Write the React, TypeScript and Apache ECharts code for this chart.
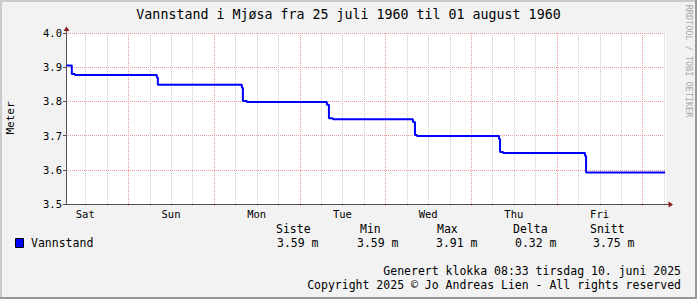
import React, { useEffect, useRef } from 'react';
import * as echarts from 'echarts';

// ---- data ----
const chartTitle = 'Vannstand i Mjøsa fra 25 juli 1960 til 01 august 1960';
const seriesName = 'Vannstand';
const yAxisName = 'Meter';
const dayLabels = ['Sat', 'Sun', 'Mon', 'Tue', 'Wed', 'Thu', 'Fri'];
const dayLabelHours = [-12, 12, 36, 60, 84, 108, 132];
const gridHours = [-12, -6, 0, 6, 12, 18, 24, 30, 36, 42, 48, 54, 60, 66, 72, 78, 84, 90, 96, 102, 108, 114, 120, 126, 132, 138, 144, 150];
// hours relative to a midnight; each level holds until the next time (step)
const hours = [-17.3, -15.77, -14.93, 8.04, 8.32, 31.85, 32.13, 33.25, 55.66, 56.22, 57.34, 79.75, 80.31, 80.87, 103.85, 104.13, 104.97, 127.94, 128.22, 150.36];
const levels = [3.905, 3.88, 3.877, 3.87, 3.849, 3.84, 3.801, 3.798, 3.79, 3.751, 3.748, 3.74, 3.702, 3.699, 3.69, 3.652, 3.649, 3.64, 3.592, 3.592];
const yMin = 3.5;
const yMax = 4.0;
const yStep = 0.1;
const statHeaders = ['Siste', 'Min', 'Max', 'Delta', 'Snitt'];
const statValues = ['3.59 m', '3.59 m', '3.91 m', '0.32 m', '3.75 m'];
const footerLines = [
  'Generert klokka 08:33 tirsdag 10. juni 2025',
  'Copyright 2025 © Jo Andreas Lien - All rights reserved',
];
const watermark = 'RRDTOOL / TOBI OETIKER';

// ---- layout / style ----
const MONO = '"DejaVu Sans Mono", "Liberation Mono", monospace';
const AXIS = '#505050';
const ARROW = '#8b1a1a';
const GRID = '#c8c8c8';
const MGRID = '#e99a9a';
const headerX = [276, 360, 437, 513, 590];
const valueX = [277, 357, 436, 515, 593];

function txt(text: string, x: number, y: number, size: number, align = 'left', fill = '#000', rotation = 0) {
  return {
    type: 'text',
    x,
    y,
    rotation,
    silent: true,
    style: {
      text,
      x: 0,
      y: 0,
      fill,
      font: `${size}px ${MONO}`,
      align,
      textAlign: align,
      verticalAlign: 'middle',
      textVerticalAlign: 'middle',
    },
  };
}

export default function App() {
  const ref = useRef<HTMLDivElement>(null);
  useEffect(() => {
    if (!ref.current) return;
    const chart = echarts.init(ref.current, undefined, { renderer: 'svg' });
    const graphic: any[] = [
      // frame
      { type: 'rect', shape: { x: 0, y: 0, width: 697, height: 2 }, style: { fill: '#CBCBCB' }, silent: true },
      { type: 'rect', shape: { x: 0, y: 0, width: 2, height: 299 }, style: { fill: '#CBCBCB' }, silent: true },
      { type: 'rect', shape: { x: 695, y: 0, width: 2, height: 299 }, style: { fill: '#999999' }, silent: true },
      { type: 'rect', shape: { x: 0, y: 297, width: 697, height: 2 }, style: { fill: '#999999' }, silent: true },
      txt(chartTitle, 348.5, 14, 13.3, 'center'),
      txt(watermark, 689, 61, 8.5, 'center', '#a8a8a8', -Math.PI / 2),
      txt(yAxisName, 10, 118, 11, 'center', '#000', Math.PI / 2),
      // axis extensions + arrows
      { type: 'line', shape: { x1: 66.5, y1: 33, x2: 66.5, y2: 30 }, style: { stroke: AXIS, lineWidth: 1 }, silent: true, z: 10 },
      { type: 'polygon', shape: { points: [[66.5, 26.5], [63.5, 31], [69.5, 31]] }, style: { fill: ARROW }, silent: true, z: 10 },
      { type: 'line', shape: { x1: 666, y1: 204.5, x2: 669, y2: 204.5 }, style: { stroke: AXIS, lineWidth: 1 }, silent: true, z: 10 },
      { type: 'polygon', shape: { points: [[673, 204.5], [668.5, 201.5], [668.5, 207.5]] }, style: { fill: ARROW }, silent: true, z: 10 },
      // legend
      { type: 'rect', shape: { x: 15.5, y: 238.5, width: 8, height: 9 }, style: { fill: '#0000FF', stroke: '#000', lineWidth: 1 }, silent: true },
      txt(seriesName, 31, 243, 11.5),
      ...statHeaders.map((h, i) => txt(h, headerX[i], 229, 11.5)),
      ...statValues.map((v, i) => txt(v, valueX[i], 243, 11.5)),
      txt(footerLines[0], 681, 271, 11.5, 'right'),
      txt(footerLines[1], 681, 285, 11.5, 'right'),
    ];
    chart.setOption({
      animation: false,
      backgroundColor: '#F2F2F2',
      textStyle: { fontFamily: MONO },
      grid: { left: 66, top: 33, width: 600, height: 171, show: true, backgroundColor: '#FFFFFF', borderWidth: 0 },
      xAxis: {
        type: 'value',
        min: -17.4,
        max: 150.6,
        axisLine: { show: true, onZero: false, lineStyle: { color: AXIS, width: 1 } },
        axisTick: { show: false },
        axisLabel: {
          customValues: dayLabelHours,
          formatter: (v: number) => {
            const i = dayLabelHours.indexOf(Math.round(v));
            return i >= 0 ? dayLabels[i] : '';
          },
          fontFamily: MONO,
          fontSize: 10.5,
          color: '#000',
          margin: 4,
        },
        splitLine: { show: false },
      },
      yAxis: {
        type: 'value',
        min: yMin,
        max: yMax,
        interval: yStep,
        axisLine: { show: true, onZero: false, lineStyle: { color: AXIS, width: 1 } },
        axisTick: { show: true, length: 3, lineStyle: { color: AXIS } },
        axisLabel: {
          formatter: (v: number) => v.toFixed(1),
          fontFamily: MONO,
          fontSize: 10.5,
          color: '#000',
          margin: 4,
        },
        splitLine: { show: true, lineStyle: { color: MGRID, type: [1, 1], width: 1 } },
      },
      series: [
        {
          type: 'custom',
          name: 'grid',
          z: 1,
          silent: true,
          clip: false,
          data: gridHours.map((h) => [h, yMin]),
          encode: { x: 0, y: 1 },
          renderItem: (params: any, api: any) => {
            const h = api.value(0);
            const top = api.coord([h, yMax]);
            const bot = api.coord([h, yMin]);
            const x = Math.round(top[0]) + 0.5;
            return {
              type: 'line',
              shape: { x1: x, y1: top[1], x2: x, y2: bot[1] + 2 },
              style: { stroke: h % 24 === 0 ? MGRID : GRID, lineDash: [1, 1], lineWidth: 1 },
            };
          },
        },
        {
          type: 'line',
          name: seriesName,
          z: 3,
          data: hours.map((h, i) => [h, levels[i]]),
          step: 'end',
          symbol: 'none',
          showSymbol: false,
          lineStyle: { color: '#0000FF', width: 2 },
          clip: true,
        },
      ],
      graphic,
    });
    return () => chart.dispose();
  }, []);
  return <div ref={ref} style={{ position: 'fixed', left: 0, top: 0, width: 697, height: 299 }} />;
}
